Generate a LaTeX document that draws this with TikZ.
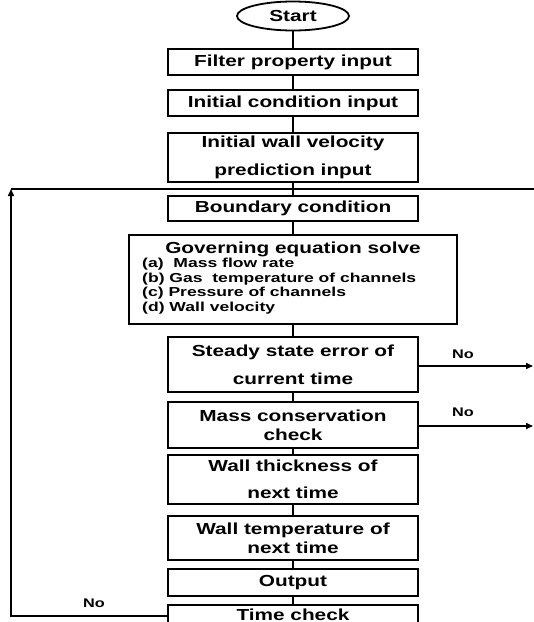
\documentclass[tikz,border=0pt]{standalone}
\usepackage{fontspec}
\setmainfont{Liberation Sans}
\newfontfamily\boxfont[FakeStretch=1.3]{Liberation Sans}
\newfontfamily\listfont[FakeStretch=1.35]{Liberation Sans}
\usetikzlibrary{shapes.geometric,arrows.meta}
\tikzset{
  flowbox/.style={draw,line width=1.8pt,minimum width=250pt,inner sep=0pt,align=center,
    font=\boxfont\bfseries\fontsize{16}{19}\selectfont},
  headtext/.style={font=\boxfont\bfseries\fontsize{16}{19}\selectfont},
  listtext/.style={font=\listfont\bfseries\fontsize{13}{14.7}\selectfont,align=left,inner sep=0pt},
  nolabel/.style={font=\boxfont\bfseries\fontsize{12.5}{14}\selectfont},
  link/.style={line width=1.5pt}
}
\begin{document}
\begin{tikzpicture}[x=1pt,y=-1pt,>={Triangle[length=7pt,width=6pt]}]
				\useasboundingbox (0,0) rectangle (534,622);
				\clip (0,0) rectangle (534,622);
				% Steps
				\node[draw,ellipse,line width=1.8pt,minimum width=112pt,minimum height=29pt,inner sep=0pt,headtext] (start) at (293,16) {Start};
				\node[flowbox,minimum height=26pt] (filter) at (293,62) {Filter property input};
				\node[flowbox,minimum height=26pt] (initcond) at (293,103) {Initial condition input};
				\node[flowbox,minimum height=49pt] (initwall) at (293,157.5) {Initial wall velocity\\[9pt]prediction input};
				\node[flowbox,minimum height=25pt] (boundary) at (293,208.5) {Boundary condition};
				\node[flowbox,minimum width=328pt,minimum height=89pt] (govern) at (293,279.5) {};
				\node[headtext] (govhead) at (293,249) {Governing equation solve};
				\node[listtext,anchor=west] (govlist) at (142,286) {(a)~~Mass flow rate\\(b) Gas~~temperature of channels\\(c) Pressure of channels\\(d) Wall velocity};
				\node[flowbox,minimum height=55pt] (steady) at (293,364.5) {Steady state error of\\[9pt]current time};
				\node[flowbox,minimum height=46pt] (masscons) at (293,425) {Mass conservation\\check};
				\node[flowbox,minimum height=49pt] (wallthick) at (293,479.5) {Wall thickness of\\[8pt]next time};
				\node[flowbox,minimum height=44pt] (walltemp) at (293,538) {Wall temperature of\\next time};
				\node[flowbox,minimum height=27pt] (output) at (293,582.5) {Output};
				\node[flowbox,minimum height=24pt] (timecheck) at (293,617) {\raisebox{4pt}{Time check}};
				% Links down the chart
				\foreach \a/\b in {start/filter,filter/initcond,initcond/initwall,initwall/boundary,boundary/govern,govern/steady,steady/masscons,masscons/wallthick,wallthick/walltemp,walltemp/output,output/timecheck}{
					\draw[link] (\a) -- (\b);
				}
				% Loop back
				\coordinate (loopL) at (11,189);
				\coordinate (loopR) at (534,189);
				\coordinate (rimA) at (533,366);
				\coordinate (rimB) at (533,426);
				\draw[link,->] (timecheck.west |- 0,616) -| (loopL);
				\draw[link] (loopL) -- (loopR);
				\draw[link,->] (steady.east |- rimA) -- (rimA);
				\draw[link,->] (masscons.east |- rimB) -- (rimB);
				\node[nolabel] (noA) at (463,354) {No};
				\node[nolabel] (noB) at (463,412) {No};
				\node[nolabel] (noC) at (94,603) {No};
			\end{tikzpicture}
\end{document}
